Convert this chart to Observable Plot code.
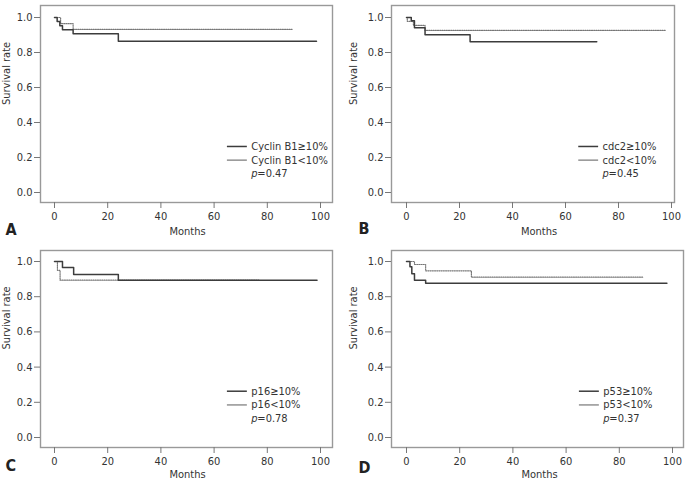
<!DOCTYPE html>
<html>
<head>
<meta charset="utf-8">
<script src="https://cdn.jsdelivr.net/npm/d3@7"></script>
<script src="https://cdn.jsdelivr.net/npm/@observablehq/plot@0.6"></script>
<style>
  html, body { margin: 0; padding: 0; background: #fff; }
  #figure { position: relative; width: 687px; height: 481px; background: #fff; overflow: hidden; }
  #figure > svg { position: absolute; }
</style>
</head>
<body>
<div id="figure"></div>
<script>
// Kaplan–Meier survival by marker expression (four panels)
const panelLetters = ["A", "B", "C", "D"];
const highLabels = ["Cyclin B1≥10%", "cdc2≥10%", "p16≥10%", "p53≥10%"];
const lowLabels = ["Cyclin B1<10%", "cdc2<10%", "p16<10%", "p53<10%"];
const pValues = ["0.47", "0.45", "0.78", "0.37"];
const xTicks = [0, 20, 40, 60, 80, 100];
const yTicks = [0, 0.2, 0.4, 0.6, 0.8, 1.0];

// step points: months at each event (last = end of follow-up) and survival after it
const cyclinHighMonths = [0, 1, 2, 3, 7, 24, 98.5];
const cyclinHighSurv   = [1, 0.977, 0.953, 0.930, 0.907, 0.865, 0.865];
const cyclinLowMonths  = [0, 2.3, 7, 89.3];
const cyclinLowSurv    = [1, 0.965, 0.932, 0.932];

const cdc2HighMonths = [0, 1.8, 3, 7, 24, 71.8];
const cdc2HighSurv   = [1, 0.981, 0.941, 0.901, 0.861, 0.861];
const cdc2LowMonths  = [0, 0.3, 2.6, 7, 97.8];
const cdc2LowSurv    = [1, 0.978, 0.955, 0.926, 0.926];

const p16HighMonths = [0, 3, 7.2, 24, 98.7];
const p16HighSurv   = [1, 0.966, 0.926, 0.894, 0.894];
const p16LowMonths  = [0, 1.1, 2.1, 76.8];
const p16LowSurv    = [1, 0.95, 0.894, 0.894];

const p53HighMonths = [0, 1.3, 2, 3, 7.2, 97.9];
const p53HighSurv   = [1, 0.970, 0.930, 0.894, 0.876, 0.876];
const p53LowMonths  = [0, 3, 7.2, 24.4, 89.1];
const p53LowSurv    = [1, 0.983, 0.947, 0.911, 0.911];

const highMonths = [cyclinHighMonths, cdc2HighMonths, p16HighMonths, p53HighMonths];
const highSurv = [cyclinHighSurv, cdc2HighSurv, p16HighSurv, p53HighSurv];
const lowMonths = [cyclinLowMonths, cdc2LowMonths, p16LowMonths, p53LowMonths];
const lowSurv = [cyclinLowSurv, cdc2LowSurv, p16LowSurv, p53LowSurv];

// panel boxes on the page
const layouts = [
  {left: 0,   top: 0,   width: 340, height: 240, ml: 40, mr: 8,  mt: 5,  mb: 38, il: 14, ir: 12, it: 12, ib: 10, titleDx: -34, monthsDy: 29, letterDx: -35, letterDy: 27},
  {left: 340, top: 0,   width: 347, height: 240, ml: 51, mr: 13, mt: 5,  mb: 38, il: 15, ir: 3,  it: 12, ib: 10, titleDx: -38, monthsDy: 29, letterDx: -33, letterDy: 26},
  {left: 0,   top: 240, width: 340, height: 241, ml: 40, mr: 8,  mt: 10, mb: 34, il: 14, ir: 12, it: 11, ib: 10, titleDx: -34, monthsDy: 27, letterDx: -35, letterDy: 18},
  {left: 340, top: 240, width: 347, height: 241, ml: 51, mr: 4,  mt: 10, mb: 34, il: 15, ir: 11, it: 11, ib: 10, titleDx: -38, monthsDy: 27, letterDx: -33, letterDy: 20}
];

const fontFamily = '"Liberation Sans Narrow", "DejaVu Sans Condensed", "Roboto Condensed", Arial, sans-serif';
const textColor = "#333";
const tickColor = "#777";
const solidColor = "#3c3c3c";
const dottedColor = "#777";

function steps(months, surv) {
  return months.map((t, i) => ({t, s: surv[i]}));
}

const figure = document.getElementById("figure");

panelLetters.forEach((letter, i) => {
  const L = layouts[i];
  const high = steps(highMonths[i], highSurv[i]);
  const low = steps(lowMonths[i], lowSurv[i]);
  const legendRows = [
    {label: highLabels[i], y: 0.263, dash: null},
    {label: lowLabels[i], y: 0.185, dash: "1,1.2"}
  ];
  const legX1 = 65, legX2 = 72.5, legText = 74, pY = 0.11;

  const plot = Plot.plot({
    width: L.width,
    height: L.height,
    marginLeft: L.ml,
    marginRight: L.mr,
    marginTop: L.mt,
    marginBottom: L.mb,
    x: {domain: [0, 100], insetLeft: L.il, insetRight: L.ir},
    y: {domain: [0, 1], insetTop: L.it, insetBottom: L.ib},
    style: {fontFamily, fontSize: "11px", color: textColor, background: "#fff", overflow: "visible"},
    marks: [
      Plot.frame({stroke: "#999", strokeWidth: 1.4}),
      Plot.axisX(xTicks, {tickSize: 6, tickPadding: 4, label: null, stroke: tickColor, fill: textColor}),
      Plot.axisY(yTicks, {tickSize: 6, tickPadding: 2, tickFormat: d => d.toFixed(1), label: null, stroke: tickColor, fill: textColor}),
      Plot.text([{x: 50, label: "Months"}], {x: "x", text: "label", frameAnchor: "bottom", lineAnchor: "middle", dy: L.monthsDy, fill: textColor}),
      Plot.text([{y: 0.5, label: "Survival rate"}], {y: "y", text: "label", frameAnchor: "left", dx: L.titleDx, rotate: -90, fill: textColor}),
      Plot.text([letter], {text: d => d, frameAnchor: "bottom-left", lineAnchor: "middle", dx: L.letterDx, dy: L.letterDy, fontSize: 16, fontWeight: "bold", fill: "#222"}),
      Plot.line(low, {x: "t", y: "s", curve: "step-after", stroke: dottedColor, strokeWidth: 1.2, strokeDasharray: "1,1.2"}),
      Plot.line(high, {x: "t", y: "s", curve: "step-after", stroke: solidColor, strokeWidth: 1.5}),
      Plot.ruleY(legendRows, {y: "y", x1: legX1, x2: legX2, stroke: (d, k) => k === 0 ? solidColor : dottedColor, strokeWidth: (d, k) => k === 0 ? 1.5 : 1.2, strokeDasharray: d => d.dash}),
      Plot.text(legendRows, {x: legText, y: "y", text: "label", textAnchor: "start", fill: textColor}),
      Plot.text(["p"], {x: legText, y: pY, text: d => d, textAnchor: "start", fontStyle: "italic", fill: textColor}),
      Plot.text([pValues[i]], {x: legText, y: pY, text: d => "=" + d, textAnchor: "start", dx: 6, fill: textColor})
    ]
  });
  plot.style.left = L.left + "px";
  plot.style.top = L.top + "px";
  figure.appendChild(plot);
});
</script>
</body>
</html>
